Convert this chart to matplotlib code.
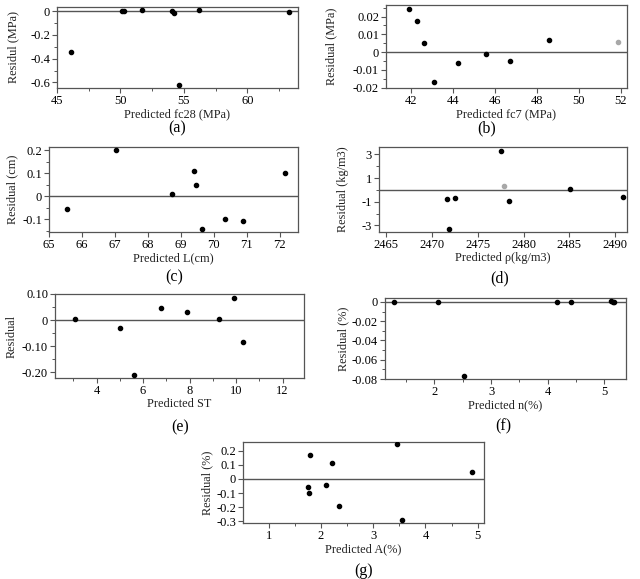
import numpy as np
import matplotlib
matplotlib.use('Agg')
import matplotlib.pyplot as plt
from matplotlib.ticker import MultipleLocator

plt.rcParams['font.family'] = ['Liberation Serif', 'DejaVu Serif']
plt.rcParams['axes.unicode_minus'] = False

# (a) fc28
xa = [46.08, 50.13, 50.31, 51.68, 54.05, 54.26, 54.65, 56.23, 63.28]
ya = [-0.34, 0.0, 0.0, 0.008, 0.005, -0.017, -0.62, 0.014, -0.005]
# (b) fc7 (last point drawn grey)
xb = [41.90, 42.27, 42.63, 43.07, 44.24, 45.56, 46.71, 48.57]
yb = [0.0241, 0.0174, 0.0052, -0.0169, -0.0063, -0.0011, -0.0050, 0.0067]
xb_grey = [51.85]
yb_grey = [0.0057]
# (c) L
xc = [65.54, 67.03, 68.74, 69.39, 69.45, 69.65, 70.35, 70.88, 72.16]
yc = [-0.056, 0.200, 0.009, 0.109, 0.051, -0.142, -0.101, -0.110, 0.101]
# (d) rho
xd = [2471.6, 2471.8, 2472.5, 2477.5, 2478.4, 2485.1, 2490.9]
yd = [-0.76, -3.31, -0.65, 3.28, -0.93, 0.05, -0.62]
xd_grey = [2477.9]
yd_grey = [0.34]
# (e) ST
xe = [3.05, 5.02, 5.59, 6.75, 7.87, 9.27, 9.92, 10.28]
ye = [0.005, -0.030, -0.210, 0.047, 0.032, 0.006, 0.085, -0.085]
# (f) n
xf = [1.28, 2.06, 2.52, 4.16, 4.41, 5.11, 5.15, 5.16]
yf = [0.0003, 0.0003, -0.0766, 0.0002, 0.0002, 0.0008, 0.0002, 0.0003]
# (g) A
xg = [1.75, 1.78, 1.80, 2.10, 2.22, 2.34, 3.46, 3.55, 4.90]
yg = [-0.055, -0.098, 0.169, -0.040, 0.112, -0.190, 0.248, -0.293, 0.050]

panels = [
    dict(x=xa, y=ya, gx=[], gy=[], xlabel='Predicted fc28 (MPa)', ylabel='Residul (MPa)', tag='(a)',
         xlim=(45, 64), ylim=(-0.647, 0.036), xt=[45, 50, 55, 60], xminor=2.5,
         yt=[0, -0.2, -0.4, -0.6], ytl=['0', '-0.2', '-0.4', '-0.6'], yminor=0.1,
         rect=[57, 7, 298, 88], lab=(177, 128), ylx=13),
    dict(x=xb, y=yb, gx=xb_grey, gy=yb_grey, xlabel='Predicted fc7 (MPa)', ylabel='Residual (MPa)', tag='(b)',
         xlim=(40.8, 52.3), ylim=(-0.0202, 0.0265), xt=[42, 44, 46, 48, 50, 52], xminor=None,
         yt=[0.02, 0.01, 0, -0.01, -0.02], ytl=['0.02', '0.01', '0', '-0.01', '-0.02'], yminor=0.005,
         rect=[386, 5, 627, 88], lab=(487, 128), ylx=331),
    dict(x=xc, y=yc, gx=[], gy=[], xlabel='Predicted L(cm)', ylabel='Residual (cm)', tag='(c)',
         xlim=(65, 72.55), ylim=(-0.156, 0.215), xt=[65, 66, 67, 68, 69, 70, 71, 72], xminor=None,
         yt=[0.2, 0.1, 0, -0.1], ytl=['0.2', '0.1', '0', '-0.1'], yminor=0.05,
         rect=[49, 147, 298, 232], lab=(174, 277), ylx=12),
    dict(x=xd, y=yd, gx=xd_grey, gy=yd_grey, xlabel='Predicted ρ(kg/m3)', ylabel='Residual (kg/m3)', tag='(d)',
         xlim=(2464.2, 2491.3), ylim=(-3.56, 3.62), xt=[2465, 2470, 2475, 2480, 2485, 2490], xminor=None,
         yt=[3, 1, -1, -3], ytl=['3', '1', '-1', '-3'], yminor=1,
         rect=[379, 147, 627, 232], lab=(500, 278), ylx=343),
    dict(x=xe, y=ye, gx=[], gy=[], xlabel='Predicted ST', ylabel='Residual', tag='(e)',
         xlim=(2.21, 12.92), ylim=(-0.222, 0.10), xt=[4, 6, 8, 10, 12], xminor=1,
         yt=[0.10, 0, -0.10, -0.20], ytl=['0.10', '0', '-0.10', '-0.20'], yminor=0.05,
         rect=[55, 294, 304, 378], lab=(180, 427), ylx=12),
    dict(x=xf, y=yf, gx=[], gy=[], xlabel='Predicted n(%)', ylabel='Residual (%)', tag='(f)',
         xlim=(1.13, 5.38), ylim=(-0.080, 0.004), xt=[2, 3, 4, 5], xminor=0.5,
         yt=[0, -0.02, -0.04, -0.06, -0.08], ytl=['0', '-0.02', '-0.04', '-0.06', '-0.08'], yminor=0.01,
         rect=[385, 298, 626, 379], lab=(503, 426), ylx=343),
    dict(x=xg, y=yg, gx=[], gy=[], xlabel='Predicted A(%)', ylabel='Residual (%)', tag='(g)',
         xlim=(0.51, 5.12), ylim=(-0.314, 0.264), xt=[1, 2, 3, 4, 5], xminor=0.5,
         yt=[0.2, 0.1, 0, -0.1, -0.2, -0.3], ytl=['0.2', '0.1', '0', '-0.1', '-0.2', '-0.3'], yminor=None,
         rect=[243, 442, 484, 523], lab=(364, 571), ylx=207),
]

W, H = 640, 579
fig = plt.figure(figsize=(W / 100, H / 100), dpi=100)
edge = '#555555'

for p in panels:
    l, t, r, b = p['rect']
    ax = fig.add_axes([l / W, 1 - b / H, (r - l) / W, (b - t) / H])
    ax.axhline(0, color='#555555', lw=1.0, zorder=1)
    ax.scatter(p['x'], p['y'], s=9, color='black', zorder=3)
    if p['gx']:
        ax.scatter(p['gx'], p['gy'], s=9, color='#a8a8a8', zorder=3)
    ax.set_xlim(*p['xlim'])
    ax.set_ylim(*p['ylim'])
    ax.set_xticks(p['xt'])
    ax.set_yticks(p['yt'])
    ax.set_yticklabels(p['ytl'])
    if p['xminor']:
        ax.xaxis.set_minor_locator(MultipleLocator(p['xminor']))
    if p['yminor']:
        ax.yaxis.set_minor_locator(MultipleLocator(p['yminor']))
    for s in ax.spines.values():
        s.set_color(edge)
        s.set_linewidth(0.9)
    ax.tick_params(which='both', direction='out', colors=edge, labelcolor='black',
                   labelsize=9, pad=1.5)
    ax.tick_params(which='major', length=3.5, width=0.8)
    ax.tick_params(which='minor', length=2, width=0.7)
    ax.set_xlabel(p['xlabel'], fontsize=8.8, labelpad=1, color='#222222')
    ax.set_ylabel(p['ylabel'], fontsize=8.8, color='#222222', va='center')
    ax.yaxis.set_label_coords((p['ylx'] - l) / (r - l), 0.5)
    fig.text(p['lab'][0] / W, 1 - p['lab'][1] / H, p['tag'], ha='center', va='center', fontsize=11.5)

fig.savefig('out.png', dpi=100)
